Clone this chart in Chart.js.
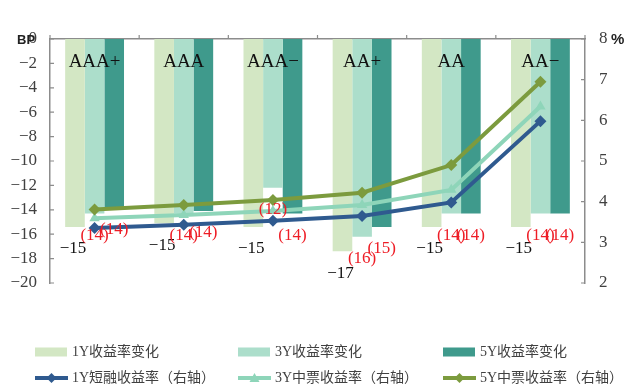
<!DOCTYPE html>
<html><head><meta charset="utf-8">
<script src="https://cdn.jsdelivr.net/npm/chart.js@4"></script>
<style>html,body{margin:0;padding:0;background:#fff;}canvas{display:block;}</style>
</head><body>
<canvas id="c" width="629" height="390"></canvas>
<script>
const categories = ['AAA+', 'AAA', 'AAA\u2212', 'AA+', 'AA', 'AA\u2212'];
const change1Y = [-15.4, -15.1, -15.4, -17.4, -15.4, -15.4];
const change3Y = [-14.3, -14.3, -12.2, -16.2, -14.3, -14.3];
const change5Y = [-13.8, -14.1, -14.3, -15.4, -14.3, -14.3];
const yield1Y = [3.35, 3.43, 3.53, 3.65, 3.98, 5.98];
const yield3Y = [3.59, 3.67, 3.77, 3.92, 4.29, 6.34];
const yield5Y = [3.81, 3.92, 4.04, 4.22, 4.90, 6.95];
const leftTicks = [0, -2, -4, -6, -8, -10, -12, -14, -16, -18, -20];
const rightTicks = [2, 3, 4, 5, 6, 7, 8];
const seriesNames = ['1Y收益率变化', '3Y收益率变化', '5Y收益率变化',
  '1Y短融收益率（右轴）', '3Y中票收益率（右轴）', '5Y中票收益率（右轴）'];

const C1 = '#d3e7c4', C3 = '#acdecb', C5 = '#3f9a8c';
const L1 = '#2f5a8f', L3 = '#8ed5b9', L5 = '#7c9b3e';
const SERIF = "'Liberation Serif','DejaVu Serif',serif";
const AXIS = '#8c8c8c';
const minus = v => (v < 0 ? '\u2212' : '') + Math.abs(v);

const overlay = {
  id: 'overlay',
  afterDatasetsDraw(chart) {
    const ctx = chart.ctx;
    ctx.save();
    ctx.font = '17px ' + SERIF;
    ctx.textAlign = 'center';
    ctx.textBaseline = 'middle';
    chart.data.datasets.forEach((ds, i) => {
      if (ds.type === 'line') return;
      const meta = chart.getDatasetMeta(i);
      meta.data.forEach((el, j) => {
        const r = Math.round(Math.abs(ds.data[j]));
        if (i === 0) { ctx.fillStyle = '#111'; ctx.fillText('\u2212' + r, el.x - 2, el.y + 22); }
        else { ctx.fillStyle = '#ee1c25'; ctx.fillText('(' + r + ')', el.x, el.y + 22); }
      });
    });
    ctx.restore();
  },
  afterDraw(chart) {
    const ctx = chart.ctx, a = chart.chartArea;
    const xs = chart.scales.x, ys = chart.scales.y, y1 = chart.scales.y1;
    ctx.save();
    // inside tick marks
    ctx.strokeStyle = AXIS; ctx.lineWidth = 1.2;
    ctx.beginPath();
    leftTicks.forEach(v => { const y = ys.getPixelForValue(v); ctx.moveTo(a.left, y); ctx.lineTo(a.left + 4, y); });
    rightTicks.forEach(v => { const y = y1.getPixelForValue(v); ctx.moveTo(a.right - 4, y); ctx.lineTo(a.right, y); });
    for (let j = 0; j <= categories.length; j++) {
      const x = xs.getPixelForValue(j - 0.5);
      ctx.moveTo(x, a.top - 4); ctx.lineTo(x, a.top);
    }
    ctx.stroke();
    // category labels
    ctx.fillStyle = '#111';
    ctx.font = '19px ' + SERIF;
    ctx.textAlign = 'center'; ctx.textBaseline = 'middle';
    categories.forEach((c, j) => ctx.fillText(c, xs.getPixelForValue(j), a.top + 23));
    // units
    ctx.font = 'bold 13px "Liberation Sans", Arial, sans-serif';
    ctx.textAlign = 'left';
    ctx.fillStyle = '#222';
    ctx.fillText('BP', 17, ys.getPixelForValue(0) + 1);
    ctx.font = 'bold 15px "Liberation Sans", Arial, sans-serif';
    ctx.fillText('%', 611, y1.getPixelForValue(8) + 1);
    // legend
    const cols = [35, 238, 443], rows = [352, 378];
    ctx.font = '14px ' + SERIF + ",'Noto Sans CJK SC'";
    ctx.font = "14px 'Liberation Serif','Noto Sans CJK SC',serif";
    ctx.textBaseline = 'middle';
    const bars = [C1, C3, C5], lines = [L1, L3, L5], marks = ['diamond', 'triangle', 'diamond'];
    for (let k = 0; k < 3; k++) {
      ctx.fillStyle = bars[k];
      ctx.fillRect(cols[k], rows[0] - 4.5, 32, 9);
      ctx.fillStyle = '#404040';
      ctx.fillText(seriesNames[k], cols[k] + 37, rows[0]);
    }
    for (let k = 0; k < 3; k++) {
      const x0 = cols[k], yy = rows[1];
      ctx.strokeStyle = lines[k]; ctx.lineWidth = 4;
      ctx.beginPath(); ctx.moveTo(x0, yy); ctx.lineTo(x0 + 33, yy); ctx.stroke();
      ctx.fillStyle = lines[k];
      const cx = x0 + 16.5;
      ctx.beginPath();
      if (marks[k] === 'diamond') {
        ctx.moveTo(cx, yy - 5); ctx.lineTo(cx + 5, yy); ctx.lineTo(cx, yy + 5); ctx.lineTo(cx - 5, yy);
      } else {
        ctx.moveTo(cx, yy - 5); ctx.lineTo(cx + 5, yy + 4); ctx.lineTo(cx - 5, yy + 4);
      }
      ctx.closePath(); ctx.fill();
      ctx.fillStyle = '#404040';
      ctx.fillText(seriesNames[k + 3], x0 + 37, yy);
    }
    ctx.restore();
  }
};

new Chart(document.getElementById('c'), {
  type: 'bar',
  data: {
    labels: categories,
    datasets: [
      { type: 'bar', label: seriesNames[0], data: change1Y, backgroundColor: C1, yAxisID: 'y', order: 2 },
      { type: 'bar', label: seriesNames[1], data: change3Y, backgroundColor: C3, yAxisID: 'y', order: 2 },
      { type: 'bar', label: seriesNames[2], data: change5Y, backgroundColor: C5, yAxisID: 'y', order: 2 },
      { type: 'line', label: seriesNames[3], data: yield1Y, borderColor: L1, backgroundColor: L1, borderWidth: 4,
        pointStyle: 'rectRot', pointRadius: 6, pointBorderWidth: 0, tension: 0, yAxisID: 'y1', order: 0 },
      { type: 'line', label: seriesNames[4], data: yield3Y, borderColor: L3, backgroundColor: L3, borderWidth: 4,
        pointStyle: 'triangle', pointRadius: 6, pointBorderWidth: 0, tension: 0, yAxisID: 'y1', order: 1 },
      { type: 'line', label: seriesNames[5], data: yield5Y, borderColor: L5, backgroundColor: L5, borderWidth: 4,
        pointStyle: 'rectRot', pointRadius: 6, pointBorderWidth: 0, tension: 0, yAxisID: 'y1', order: 0 }
    ]
  },
  options: {
    responsive: false,
    animation: false,
    devicePixelRatio: 1,
    layout: { padding: { left: 0, right: 0, top: 0, bottom: 107 } },
    datasets: { bar: { barPercentage: 1, categoryPercentage: 0.66 } },
    plugins: { legend: { display: false }, tooltip: { enabled: false } },
    scales: {
      x: {
        position: 'top', offset: true,
        grid: { display: false, drawTicks: false },
        border: { display: true, color: AXIS, width: 1.5 },
        ticks: { display: false },
        afterFit: s => { s.height = 39; }
      },
      y: {
        position: 'left', min: -20, max: 0,
        afterBuildTicks: s => { s.ticks = leftTicks.map(v => ({ value: v })); },
        grid: { display: false, drawTicks: false },
        border: { display: true, color: AXIS, width: 1.5 },
        ticks: { padding: 13, color: '#404040', font: { family: SERIF, size: 17 }, callback: v => minus(v) },
        afterFit: s => { s.width = 50; }
      },
      y1: {
        position: 'right', min: 2, max: 8,
        afterBuildTicks: s => { s.ticks = rightTicks.map(v => ({ value: v })); },
        grid: { display: false, drawTicks: false },
        border: { display: true, color: AXIS, width: 1.5 },
        ticks: { padding: 14, color: '#404040', font: { family: SERIF, size: 17 }, callback: v => String(v) },
        afterFit: s => { s.width = 44; }
      }
    }
  },
  plugins: [overlay]
});
</script>
</body></html>
